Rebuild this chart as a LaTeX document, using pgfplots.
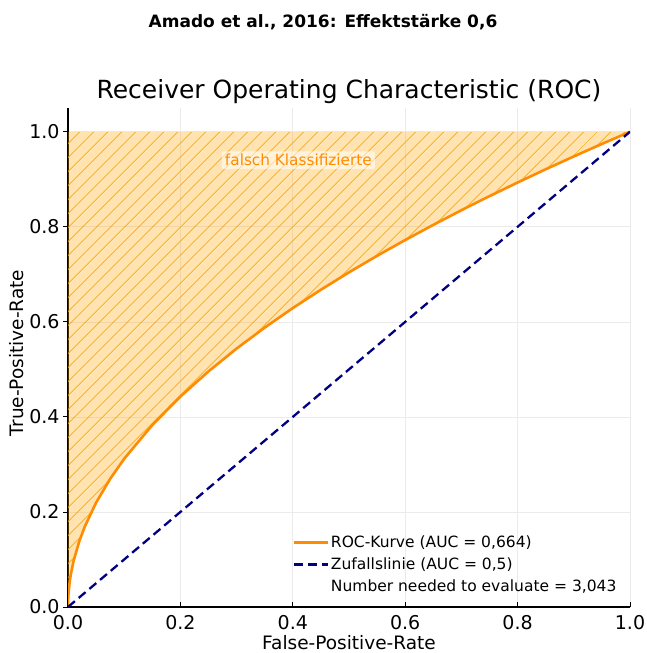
\documentclass[border=0pt]{standalone}
\usepackage{pgfplots}
\pgfplotsset{compat=1.18}
\usepackage{pgfplotstable}
\usetikzlibrary{patterns.meta}
\usepackage{fontspec}
\setmainfont{DejaVu Sans}

\definecolor{rocline}{RGB}{255,140,0}
\definecolor{zufall}{RGB}{0,0,128}
\definecolor{fillor}{RGB}{255,165,0}

% ROC-Kurve
\pgfplotstableread{
fpr tpr
0.0 0.0
0.00001 0.0030
0.0001 0.0095
0.0003 0.0165
0.001 0.0303
0.003 0.0529
0.005 0.0685
0.01 0.0973
0.02 0.1381
0.03 0.1696
0.05 0.2196
0.075 0.2696
0.1 0.3119
0.15 0.3829
0.2 0.4429
0.25 0.4958
0.3 0.5438
0.35 0.5879
0.4 0.6290
0.45 0.6676
0.5 0.7042
0.55 0.7390
0.6 0.7722
0.65 0.8041
0.7 0.8349
0.75 0.8645
0.8 0.8932
0.85 0.9211
0.9 0.9481
0.95 0.9744
1.0 1.0
}\roctable

% Fläche oberhalb der Kurve (falsch Klassifizierte)
\pgfplotstableread{
fpr tpr
0.0 0.0
0.00001 0.0030
0.0001 0.0095
0.0003 0.0165
0.001 0.0303
0.003 0.0529
0.005 0.0685
0.01 0.0973
0.02 0.1381
0.03 0.1696
0.05 0.2196
0.075 0.2696
0.1 0.3119
0.15 0.3829
0.2 0.4429
0.25 0.4958
0.3 0.5438
0.35 0.5879
0.4 0.6290
0.45 0.6676
0.5 0.7042
0.55 0.7390
0.6 0.7722
0.65 0.8041
0.7 0.8349
0.75 0.8645
0.8 0.8932
0.85 0.9211
0.9 0.9481
0.95 0.9744
1.0 1.0
0.0 1.0
}\filltable

\begin{document}
\begin{tikzpicture}
\useasboundingbox (-68pt,-46pt) rectangle (578pt,607pt);
\begin{axis}[
    at={(0,0)}, anchor=south west,
    scale only axis,
    width=562pt, height=499pt,
    xmin=0, xmax=1, ymin=0, ymax=1.05,
    axis lines*=left,
    axis line style={black, line width=1.2pt},
    xtick={0,0.2,0.4,0.6,0.8,1.0},
    ytick={0,0.2,0.4,0.6,0.8,1.0},
    tick align=outside,
    major tick length=5pt,
    tick style={black, line width=0.9pt},
    x tick style={yshift=5pt},
    grid=major,
    grid style={gray!16, line width=0.7pt},
    ticklabel style={font=\fontsize{19}{22}\selectfont},
    xticklabel style={/pgf/number format/.cd, fixed, fixed zerofill, precision=1, assume math mode=true},
    yticklabel style={/pgf/number format/.cd, fixed, fixed zerofill, precision=1, assume math mode=true},
    legend style={at={(0.985,0.02)}, anchor=south east, draw=none, fill=none,
        font=\fontsize{15.5}{19}\selectfont, row sep=4.5pt},
    legend cell align=left,
    legend image code/.code={\draw[#1] (-7pt,0pt) -- (27pt,0pt);},
    no markers,
]
\addplot[fill=fillor, fill opacity=0.3, draw=none, forget plot,
    postaction={pattern={Lines[angle=45,distance=10.5pt,line width=1pt]},
        pattern color=fillor, fill opacity=0.7}]
    table[x=fpr, y=tpr] {\filltable};
\addplot[rocline, line width=2.6pt] table[x=fpr, y=tpr] {\roctable};
\addlegendentry{ROC-Kurve (AUC = 0,664)}
\addplot[zufall, line width=2.3pt, dash pattern=on 9pt off 5pt] coordinates {(0,0) (1,1)};
\addlegendentry{Zufallslinie (AUC = 0,5)}
\addlegendimage{empty legend}
\addlegendentry{Number needed to evaluate = 3,043}
\node[fill=white, fill opacity=0.55, text opacity=1, text=rocline,
    rounded corners=2pt, inner sep=3pt, font=\fontsize{15.3}{18}\selectfont]
    at (axis cs:0.41,0.94) {falsch Klassifizierte};
\end{axis}
\node[font=\bfseries\fontsize{17}{20}\selectfont] at (255pt,585pt) {Amado et al., 2016: Effektstärke 0,6};
\node[font=\fontsize{25}{30}\selectfont] at (281pt,515pt) {Receiver Operating Characteristic (ROC)};
\node[font=\fontsize{18.5}{22}\selectfont] at (281pt,-36pt) {False-Positive-Rate};
\node[font=\fontsize{18.5}{22}\selectfont, rotate=90] at (-51pt,254pt) {True-Positive-Rate};
\end{tikzpicture}
\end{document}
